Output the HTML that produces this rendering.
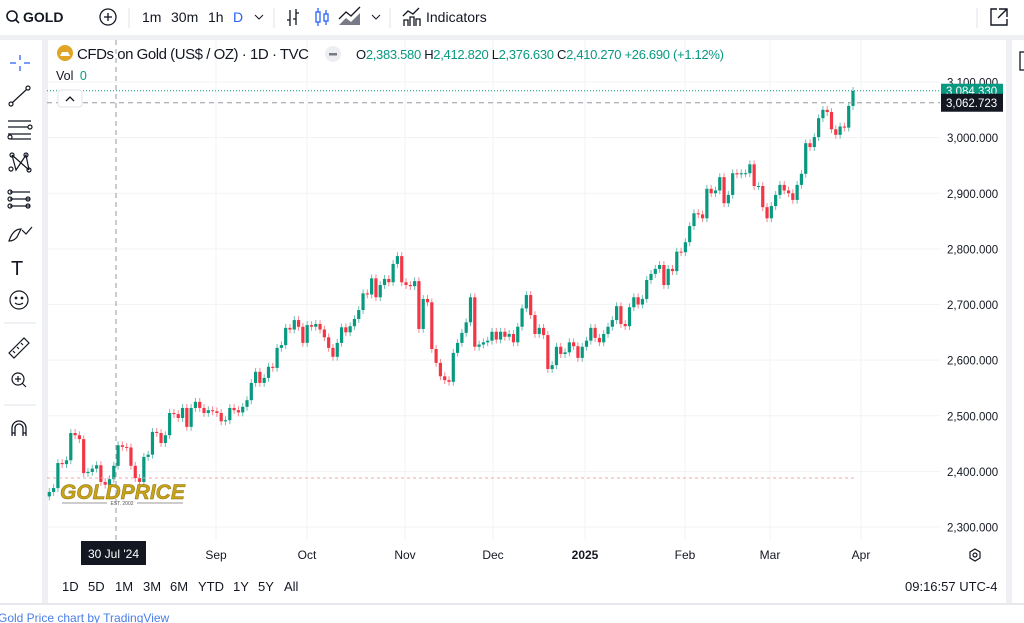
<!DOCTYPE html>
<html><head><meta charset="utf-8">
<style>
html,body{margin:0;padding:0;width:1024px;height:623px;overflow:hidden;background:#fff;font-family:"Liberation Sans",sans-serif;color:#131722}
.abs{position:absolute}
</style></head>
<body>
<div class="abs" style="left:0;top:0;width:1024px;height:36px;background:#fff"></div>
<div class="abs" style="left:0;top:35px;width:1024px;height:5px;background:#eef0f3"></div>
<div class="abs" style="left:42px;top:35px;width:6px;height:570px;background:#eef0f3"></div>
<div class="abs" style="left:1006px;top:35px;width:6px;height:570px;background:#eef0f3"></div>
<div class="abs" style="left:0;top:603px;width:1024px;height:2px;background:#e6e8ec"></div>

<svg class="abs" style="left:0;top:0" width="1024" height="623" xmlns="http://www.w3.org/2000/svg" id="main">
  <g>
    <circle cx="12" cy="16" r="5" fill="none" stroke="#131722" stroke-width="1.6"/>
    <line x1="15.5" y1="19.5" x2="19" y2="23" stroke="#131722" stroke-width="1.6"/>
    <text x="23" y="22" font-size="14" font-weight="bold" fill="#131722">GOLD</text>
  </g>
  <g>
    <circle cx="108" cy="17" r="8" fill="none" stroke="#131722" stroke-width="1.3"/>
    <line x1="104" y1="17" x2="112" y2="17" stroke="#131722" stroke-width="1.3"/>
    <line x1="108" y1="13" x2="108" y2="21" stroke="#131722" stroke-width="1.3"/>
  </g>
  <line x1="129" y1="8" x2="129" y2="28" stroke="#e0e3eb"/>
  <text x="142" y="22" font-size="14" fill="#131722">1m</text>
  <text x="171" y="22" font-size="14" fill="#131722">30m</text>
  <text x="208" y="22" font-size="14" fill="#131722">1h</text>
  <text x="233" y="22" font-size="14" fill="#2962ff">D</text>
  <path d="M255 15 l4 4 l4 -4" fill="none" stroke="#131722"/>
  <line x1="274" y1="8" x2="274" y2="28" stroke="#e0e3eb"/>
  <g stroke="#131722" stroke-width="1.3" fill="none">
    <path d="M290 10 v16 M287 20 h3 M296 9 v16 M296 13 h3 M293 19 h3"/>
  </g>
  <g stroke="#2962ff" stroke-width="1.3" fill="none">
    <rect x="316" y="12" width="4" height="10"/><path d="M318 8 v4 M318 22 v4"/>
    <rect x="324" y="14" width="4" height="7"/><path d="M326 10 v4 M326 21 v4"/>
  </g>
  <g>
    <path d="M339 25 l7 -7 l5 4 l9 -9 v12 z" fill="#787b86"/>
    <path d="M339 19 l7 -7 l5 4 l9 -9" fill="none" stroke="#131722" stroke-width="1.3"/>
  </g>
  <path d="M372 15 l4 4 l4 -4" fill="none" stroke="#131722"/>
  <line x1="390" y1="8" x2="390" y2="28" stroke="#e0e3eb"/>
  <g>
    <path d="M404 26 v-6 h4 v6 M410 26 v-9 h4 v9 M416 26 v-7 h4 v7 M403 16 l5 -5 l5 3 l6 -6" fill="none" stroke="#131722" stroke-width="1.3"/>
    <text x="426" y="22" font-size="14" fill="#131722">Indicators</text>
  </g>
  <line x1="977" y1="8" x2="977" y2="28" stroke="#e0e3eb"/>
  <g fill="none" stroke="#131722" stroke-width="1.4">
    <path d="M997 9 h-6 v16 h16 v-6"/><path d="M999 9 h8 v8 M1007 9 l-9 9"/>
  </g>

  <g stroke="#2962ff" stroke-width="1.3">
    <path d="M20 55 v5 M20 66 v5 M10 63 h6 M24 63 h6"/>
  </g>
  <g fill="none" stroke="#131722" stroke-width="1.2">
    <circle cx="11" cy="104" r="2"/><circle cx="28" cy="88" r="2"/><line x1="12.5" y1="102.5" x2="26.5" y2="89.5"/>
  </g>
  <g fill="none" stroke="#131722" stroke-width="1.2">
    <path d="M8 121 h23 M8 127 h20 M8 134 h23 M11 139 h20"/><circle cx="30" cy="127" r="2"/><circle cx="10" cy="137" r="2"/>
  </g>
  <g fill="none" stroke="#131722" stroke-width="1.2">
    <path d="M12 155 l4 15 l10 -15 l3 15 M12 155 l17 15 M16 170 l10 -15"/>
    <circle cx="12" cy="155" r="2"/><circle cx="26" cy="155" r="2"/><circle cx="11" cy="169" r="2"/><circle cx="29" cy="170" r="2"/>
  </g>
  <g fill="none" stroke="#131722" stroke-width="1.2">
    <path d="M10 192 h20 M10 199 h20 M10 206 h20"/><circle cx="10" cy="192" r="2"/><circle cx="10" cy="199" r="2"/><circle cx="28" cy="199" r="2"/><circle cx="10" cy="206" r="2"/><circle cx="28" cy="206" r="2"/>
  </g>
  <g fill="none" stroke="#131722" stroke-width="1.2">
    <path d="M9 241 q4 -12 12 -12 l-4 8 q-3 4 -8 4z M22 230 l4 4 l6 -7"/>
  </g>
  <text x="11" y="275" font-size="20" fill="#131722">T</text>
  <g fill="none" stroke="#131722" stroke-width="1.2">
    <circle cx="19" cy="300" r="9"/><circle cx="16" cy="298" r=".8" fill="#131722"/><circle cx="22" cy="298" r=".8" fill="#131722"/><path d="M15 303 q4 3 8 0"/>
  </g>
  <line x1="4" y1="323" x2="36" y2="323" stroke="#e0e3eb"/>
  <g fill="none" stroke="#131722" stroke-width="1.2">
    <path d="M9 353 l15 -15 l5 5 l-15 15z M13 351 l2 2 M17 347 l2 2 M21 343 l2 2"/>
  </g>
  <g fill="none" stroke="#131722" stroke-width="1.2">
    <circle cx="18" cy="379" r="6"/><path d="M18 376 v6 M15 379 h6 M22 383 l4 4"/>
  </g>
  <line x1="4" y1="405" x2="36" y2="405" stroke="#e0e3eb"/>
  <g fill="none" stroke="#131722" stroke-width="1.3">
    <path d="M12 436 v-8 a7 7 0 0 1 14 0 v8 M12 433 h3 M23 433 h3 M15 436 v-8 a4 4 0 0 1 8 0 v8"/>
  </g>

  <rect x="1020" y="52" width="8" height="18" fill="none" stroke="#131722" stroke-width="1.3"/>

  <g id="grid"></g>
  <g id="axisLabels"></g>
  <g id="candles"></g>
  <g id="overlay"></g>

  <g>
    <circle cx="65" cy="53" r="8" fill="#e0a526"/>
    <path d="M60 56 h10 l-2 -4 h-6z" fill="#fff"/>
    <text x="77" y="59" font-size="15" fill="#131722" textLength="232">CFDs on Gold (US$ / OZ) · 1D · TVC</text>
    <circle cx="333" cy="54" r="8" fill="#eceef1"/>
    <rect x="329" y="53" width="8" height="2.5" fill="#787b86"/>
    <text x="356" y="59" font-size="13" textLength="368"><tspan fill="#131722">O</tspan><tspan fill="#089981">2,383.580 </tspan><tspan fill="#131722">H</tspan><tspan fill="#089981">2,412.820 </tspan><tspan fill="#131722">L</tspan><tspan fill="#089981">2,376.630 </tspan><tspan fill="#131722">C</tspan><tspan fill="#089981">2,410.270 +26.690 (+1.12%)</tspan></text>
    <text x="56" y="80" font-size="12.5" fill="#131722">Vol <tspan fill="#089981" dx="3">0</tspan></text>
  </g>
  <g>
    <rect x="58" y="90" width="24" height="17" rx="3" fill="#fff" stroke="#e0e3eb"/>
    <path d="M66 101 l4 -4 l4 4" fill="none" stroke="#131722" stroke-width="1.3"/>
  </g>

  <g fill="none" stroke="#131722" stroke-width="1.2">
    <path d="M975 549 l5 3 v6 l-5 3 l-5 -3 v-6z"/><circle cx="975" cy="555" r="2"/>
  </g>
  <g font-size="13" fill="#131722">
    <text x="62" y="591">1D</text>
    <text x="88" y="591">5D</text>
    <text x="115" y="591">1M</text>
    <text x="143" y="591">3M</text>
    <text x="170" y="591">6M</text>
    <text x="198" y="591">YTD</text>
    <text x="233" y="591">1Y</text>
    <text x="258" y="591">5Y</text>
    <text x="284" y="591">All</text>
  </g>
  <text x="905" y="591" font-size="13" fill="#131722">09:16:57 UTC-4</text>
  <text x="-2" y="622" font-size="12" fill="#4a7ee8">Gold Price chart by TradingView</text>
</svg>

<script>
const months = ["Sep","Oct","Nov","Dec","2025","Feb","Mar","Apr"];
const monthX = [216,307,405,493,585,685,770,861];
const priceTicks = [2300,2400,2500,2600,2700,2800,2900,3000,3100];
const closes = [
2363,2370,2415,2413,2420,2469,2465,2458,2397,2399,
2405,2411,2381,2376,2386,2410,2447,2444,2443,2410,
2388,2381,2426,2430,2471,2469,2451,2465,2505,2503,
2496,2514,2480,2514,2525,2514,2505,2510,2508,2505,
2490,2492,2514,2510,2506,2516,2528,2559,2579,2559,
2568,2588,2586,2622,2627,2658,2655,2672,2660,2631,
2663,2660,2665,2655,2641,2622,2606,2631,2659,2650,
2661,2674,2690,2720,2718,2747,2713,2735,2746,2740,
2773,2787,2740,2735,2733,2742,2656,2710,2704,2620,
2595,2571,2564,2561,2613,2631,2649,2668,2713,2624,
2628,2632,2635,2651,2637,2651,2642,2647,2632,2660,
2693,2717,2681,2647,2658,2645,2584,2591,2624,2611,
2614,2632,2625,2604,2624,2635,2658,2640,2632,2647,
2660,2672,2697,2665,2661,2695,2713,2700,2710,2744,
2755,2764,2771,2735,2764,2760,2795,2794,2812,2841,
2864,2862,2855,2908,2900,2905,2929,2882,2897,2936,
2934,2936,2936,2952,2913,2913,2875,2855,2877,2897,
2915,2905,2900,2888,2915,2935,2990,2983,3001,3035,
3050,3046,3015,3005,3020,3018,3057,3084];
const firstOpen = 2355;
const lastPrice = 3084.33;
const crossPrice = 3062.723;
const refPrice = 2388;

const NS="http://www.w3.org/2000/svg";
const X0=49.3, X1=853, PL=47, PR=940;
const yOf = p => 527 - (p-2300)*(445/800);
const xOf = i => X0 + i*(X1-X0)/(closes.length-1);
function mk(tag, attrs, parent){const e=document.createElementNS(NS,tag);for(const k in attrs)e.setAttribute(k,attrs[k]);parent.appendChild(e);return e;}

const grid=document.getElementById('grid');
monthX.forEach((x,i)=>{
  const l=mk('line',{x1:x,y1:40,x2:x,y2:540,stroke:'#f2f3f5','stroke-width':1},grid);
  
  
});
const axl=document.getElementById('axisLabels');
priceTicks.forEach(p=>{
  const y=yOf(p);
  const l=mk('line',{x1:PL,y1:y,x2:PR,y2:y,stroke:'#f2f3f5','stroke-width':1},grid);
  
  
  const t=mk('text',{x:947,y:y+4.5,'font-size':11.5,fill:'#131722'},axl);
  t.textContent=p.toLocaleString('en-US')+'.000';
  
  
});
months.forEach((m,i)=>{
  const t=mk('text',{x:monthX[i],y:559,'font-size':12,fill:'#131722','text-anchor':'middle','font-weight':m==='2025'?'bold':'normal'},axl);
  t.textContent=m;
  
  
});

const cg=document.getElementById('candles');
closes.forEach((c,i)=>{
  const o = i===0?firstOpen:closes[i-1];
  const up = c>=o;
  const col = up?'#089981':'#f23645';
  const x = xOf(i);
  const hi = Math.max(o,c)+7, lo=Math.min(o,c)-7;
  const w=mk('line',{x1:x,y1:yOf(hi),x2:x,y2:yOf(lo),stroke:col,'stroke-width':1,opacity:0.6},cg);
  
  
  const top=yOf(Math.max(o,c)), bot=yOf(Math.min(o,c));
  const r=mk('rect',{x:x-1.6,y:top,width:3.2,height:Math.max(1,bot-top),fill:col},cg);
  
  
});

const ov=document.getElementById('overlay');
const yl=yOf(lastPrice), yc=yOf(crossPrice), yr=yOf(refPrice);
let e;
e=mk('line',{x1:PL,y1:yl,x2:PR,y2:yl,stroke:'#089981','stroke-width':1,'stroke-dasharray':'1 2'},ov);


e=mk('line',{x1:PL,y1:yc,x2:PR,y2:yc,stroke:'#9598a1','stroke-width':1,'stroke-dasharray':'5 4'},ov);


e=mk('line',{x1:PL,y1:yr,x2:855,y2:yr,stroke:'#f7a4a4','stroke-width':1,'stroke-dasharray':'3 3'},ov);


e=mk('line',{x1:116,y1:40,x2:116,y2:540,stroke:'#9598a1','stroke-width':1,'stroke-dasharray':'5 4'},ov);


e=mk('rect',{x:941,y:yl-7,width:62,height:14,fill:'#089981'},ov);


e=mk('text',{x:946,y:yl+4.5,'font-size':11.5,fill:'#fff'},ov);
e.textContent=lastPrice.toLocaleString('en-US',{minimumFractionDigits:3});


e=mk('rect',{x:941,y:yc-9,width:62,height:18,fill:'#131722'},ov);


e=mk('text',{x:946,y:yc+4.5,'font-size':11.5,fill:'#fff'},ov);
e.textContent=crossPrice.toLocaleString('en-US',{minimumFractionDigits:3});


e=mk('rect',{x:81,y:541,width:65,height:24,fill:'#131722'},ov);


e=mk('text',{x:113.5,y:558,'font-size':12,fill:'#fff','text-anchor':'middle'},ov);
e.textContent="30 Jul '24";


e=mk('text',{x:60,y:499,'font-size':21,'font-weight':'bold','font-style':'italic',fill:'#c9a416',stroke:'#8a6d0a','stroke-width':0.5},ov);
e.textContent='GOLDPRICE';


e=mk('text',{x:122,y:505,'font-size':5,fill:'#555','text-anchor':'middle'},ov);
e.textContent='EST. 2002';


mk('line',{x1:62,y1:503,x2:107,y2:503,stroke:'#777','stroke-width':0.7},ov);
mk('line',{x1:137,y1:503,x2:183,y2:503,stroke:'#777','stroke-width':0.7},ov);
</script>
</body></html>
